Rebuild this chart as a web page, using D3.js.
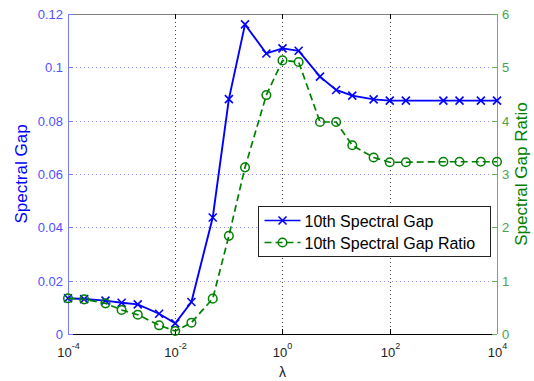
<!DOCTYPE html>
<html>
<head>
<meta charset="utf-8">
<script src="https://cdn.jsdelivr.net/npm/d3@7"></script>
<style>
  html, body { margin: 0; padding: 0; background: #fff; }
  svg { display: block; font-family: "Liberation Sans", Arial, sans-serif; }
</style>
</head>
<body>
<svg id="chart" width="534" height="381"></svg>
<script>
// data
const lambdas = [1e-4, 2e-4, 5e-4, 1e-3, 2e-3, 5e-3, 1e-2, 2e-2, 5e-2, 0.1, 0.2, 0.5,
                 1, 2, 5, 10, 20, 50, 100, 200, 1000, 2000, 5000, 10000];
const gapValues = [0.0134, 0.0131, 0.0125, 0.0117, 0.0111, 0.0076, 0.0040, 0.0120, 0.0437, 0.0881, 0.1161, 0.1052,
                   0.1071, 0.1062, 0.0965, 0.0915, 0.0894, 0.0880, 0.0875, 0.0875, 0.0875, 0.0875, 0.0875, 0.0875];
const ratioValues = [0.669, 0.650, 0.575, 0.450, 0.362, 0.163, 0.056, 0.212, 0.663, 1.84, 3.125, 4.48,
                     5.13, 5.10, 3.975, 3.975, 3.54, 3.31, 3.22, 3.22, 3.23, 3.23, 3.23, 3.23];
const xTicks = [1e-4, 1e-2, 1, 1e2, 1e4];
const leftTicks = [0, 0.02, 0.04, 0.06, 0.08, 0.1, 0.12];
const rightTicks = [0, 1, 2, 3, 4, 5, 6];
const seriesNames = ['10th Spectral Gap', '10th Spectral Gap Ratio'];

const C = {
    blue: '#0000ff',
    green: '#008000',
    leftAxis: '#7a7aff',
    leftText: '#5050ff',
    rightAxis: '#66b266',
    rightText: '#4aa34a',
    grid: '#8f8fff',
};

const svg = d3.select('#chart');
const margin = { top: 14, right: 37, bottom: 47, left: 68 };
const W = 534, H = 381;
const iw = W - margin.left - margin.right;
const ih = H - margin.top - margin.bottom;

const x = d3.scaleLog().domain([1e-4, 1e4]).range([0, iw]);
const yL = d3.scaleLinear().domain([0, 0.12]).range([ih, 0]);
const yR = d3.scaleLinear().domain([0, 6]).range([ih, 0]);

const g = svg.append('g').attr('transform', `translate(${margin.left},${margin.top})`);

// grid
g.selectAll('.hgrid')
    .data(leftTicks.filter((d) => d > 0 && d < 0.12))
    .enter().append('line')
    .attr('x1', 0).attr('x2', iw)
    .attr('y1', (d) => Math.round(yL(d)) + 0.5).attr('y2', (d) => Math.round(yL(d)) + 0.5)
    .attr('stroke', C.grid).attr('stroke-width', 1).attr('stroke-dasharray', '1,3');

g.selectAll('.vgrid')
    .data(xTicks.slice(1, -1))
    .enter().append('line')
    .attr('x1', (d) => Math.round(x(d)) + 0.5).attr('x2', (d) => Math.round(x(d)) + 0.5)
    .attr('y1', 0).attr('y2', ih)
    .attr('stroke', '#444').attr('stroke-width', 1).attr('stroke-dasharray', '1,3');

// frame: top gray, bottom black
g.append('line').attr('x1', 0).attr('x2', iw).attr('y1', 0.5).attr('y2', 0.5)
    .attr('stroke', '#808080');
g.append('line').attr('x1', 0).attr('x2', iw).attr('y1', ih + 0.5).attr('y2', ih + 0.5)
    .attr('stroke', '#000');

// x ticks (bottom + top, inward)
xTicks.forEach((t) => {
    const px = Math.round(x(t)) + 0.5;
    g.append('line').attr('x1', px).attr('x2', px).attr('y1', ih).attr('y2', ih - 5).attr('stroke', '#000');
    g.append('line').attr('x1', px).attr('x2', px).attr('y1', 0).attr('y2', 5).attr('stroke', '#000');
    const exp = Math.round(Math.log10(t));
    const lab = g.append('text')
        .attr('x', px).attr('y', ih + 23)
        .attr('text-anchor', 'middle')
        .attr('font-size', 13).attr('fill', '#222');
    lab.append('tspan').text('10');
    lab.append('tspan').attr('dy', -8).attr('font-size', 9).text(String(exp));
});

// left axis
g.append('line').attr('x1', 0.5).attr('x2', 0.5).attr('y1', 0).attr('y2', ih)
    .attr('stroke', C.leftAxis);
leftTicks.forEach((t) => {
    const py = Math.round(yL(t)) + 0.5;
    g.append('line').attr('x1', 0).attr('x2', 5).attr('y1', py).attr('y2', py).attr('stroke', C.leftAxis);
    g.append('text')
        .attr('x', -5).attr('y', py + 4.5)
        .attr('text-anchor', 'end')
        .attr('font-size', 13).attr('fill', C.leftText)
        .text(d3.format('~g')(t));
});

// right axis
g.append('line').attr('x1', iw + 0.5).attr('x2', iw + 0.5).attr('y1', 0).attr('y2', ih)
    .attr('stroke', C.rightAxis);
rightTicks.forEach((t) => {
    const py = Math.round(yR(t)) + 0.5;
    g.append('line').attr('x1', iw - 5).attr('x2', iw).attr('y1', py).attr('y2', py).attr('stroke', C.rightAxis);
    g.append('text')
        .attr('x', iw + 5).attr('y', py + 4.5)
        .attr('text-anchor', 'start')
        .attr('font-size', 13).attr('fill', C.rightText)
        .text(t);
});

// axis labels
svg.append('text')
    .attr('transform', `translate(27,${margin.top + ih / 2}) rotate(-90)`)
    .attr('text-anchor', 'middle')
    .attr('font-size', 17).attr('fill', C.blue)
    .text('Spectral Gap');
svg.append('text')
    .attr('transform', `translate(527,${margin.top + ih / 2}) rotate(-90)`)
    .attr('text-anchor', 'middle')
    .attr('font-size', 17).attr('fill', C.green)
    .text('Spectral Gap Ratio');
svg.append('text')
    .attr('x', margin.left + x(1)).attr('y', 377)
    .attr('text-anchor', 'middle')
    .attr('font-size', 14).attr('fill', '#222')
    .text('λ');

// series
const gapData = lambdas.map((l, i) => ({ l, v: gapValues[i] }));
const ratioData = lambdas.map((l, i) => ({ l, v: ratioValues[i] }));

const lineL = d3.line().x((d) => x(d.l)).y((d) => yL(d.v));
const lineR = d3.line().x((d) => x(d.l)).y((d) => yR(d.v));

function xMarker(sel, s) {
    sel.append('path')
        .attr('d', `M${-s},${-s}L${s},${s}M${-s},${s}L${s},${-s}`)
        .attr('stroke', C.blue).attr('stroke-width', 1.6).attr('fill', 'none');
}
function oMarker(sel, r) {
    sel.append('circle').attr('r', r)
        .attr('stroke', C.green).attr('stroke-width', 1.5).attr('fill', 'none');
}

g.append('path').datum(gapData)
    .attr('d', lineL)
    .attr('fill', 'none').attr('stroke', C.blue).attr('stroke-width', 1.9);
g.selectAll('.xm').data(gapData).enter().append('g')
    .attr('transform', (d) => `translate(${x(d.l)},${yL(d.v)})`)
    .call(xMarker, 4);

g.append('path').datum(ratioData)
    .attr('d', lineR)
    .attr('fill', 'none').attr('stroke', C.green).attr('stroke-width', 1.7)
    .attr('stroke-dasharray', '7,4');
g.selectAll('.om').data(ratioData).enter().append('g')
    .attr('transform', (d) => `translate(${x(d.l)},${yR(d.v)})`)
    .call(oMarker, 4.3);

// legend
const leg = svg.append('g').attr('transform', 'translate(258.5,206.5)');
leg.append('rect').attr('width', 232).attr('height', 50)
    .attr('fill', '#fff').attr('stroke', '#222').attr('stroke-width', 1);
const rows = [
    { name: seriesNames[0], color: C.blue, dash: null, mk: (s) => xMarker(s, 4) },
    { name: seriesNames[1], color: C.green, dash: '7,4', mk: (s) => oMarker(s, 4.3) },
];
rows.forEach((r, i) => {
    const cy = 14 + i * 22;
    leg.append('line').attr('x1', 6).attr('x2', 42).attr('y1', cy).attr('y2', cy)
        .attr('stroke', r.color).attr('stroke-width', 1.7)
        .attr('stroke-dasharray', r.dash);
    leg.append('g').attr('transform', `translate(24,${cy})`).call(r.mk);
    leg.append('text').attr('x', 46).attr('y', cy + 6)
        .attr('font-size', 16).attr('fill', '#000')
        .text(r.name);
});
</script>
</body>
</html>
